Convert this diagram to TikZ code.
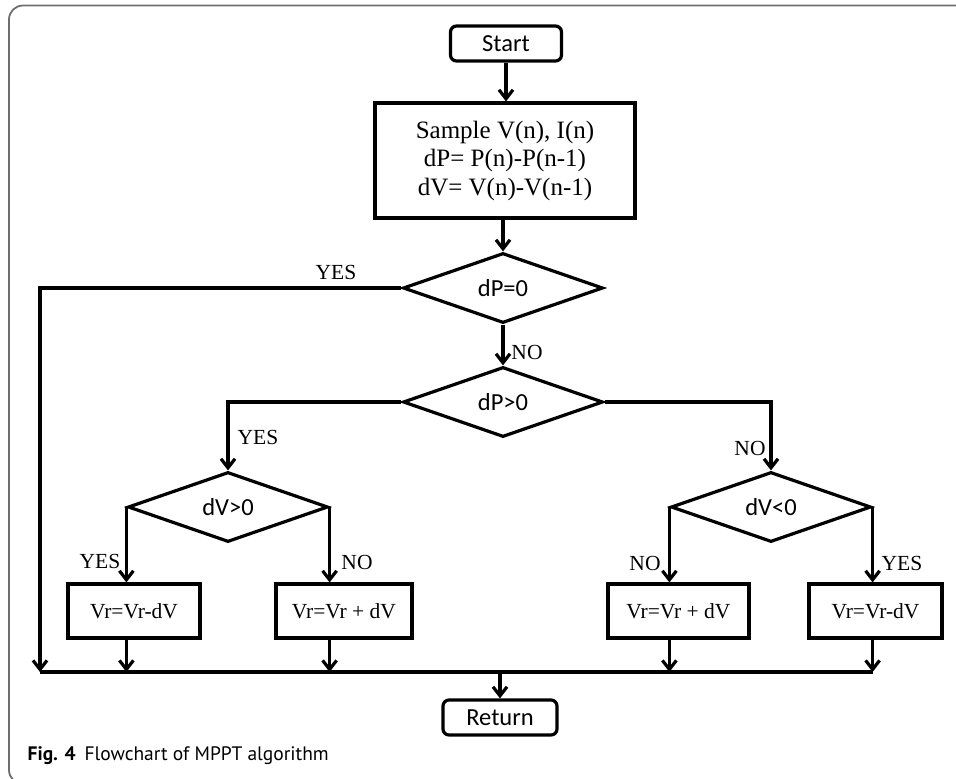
\documentclass[tikz,border=0pt]{standalone}
\usepackage{fontspec}
\setmainfont{Liberation Serif}
\newfontfamily\boxfont{Carlito}
\newfontfamily\capfont{PT Sans}
\usetikzlibrary{shapes.geometric,arrows.meta}
\definecolor{frame1}{HTML}{6E6E6E}

\begin{document}
\begin{tikzpicture}[x=1pt,y=-1pt,line width=3.2pt,
  termbox/.style={draw,rounded corners=6pt,minimum width=111pt,minimum height=35pt,inner sep=0pt,font=\boxfont\fontsize{24.5}{28}\selectfont},
  stepbox/.style={draw,minimum height=54pt,inner sep=0pt,font=\fontsize{21.5}{25}\selectfont},
  testbox/.style={draw,diamond,minimum width=200pt,minimum height=70pt,inner sep=0pt,font=\boxfont\fontsize{24.5}{28}\selectfont},
  answer/.style={inner sep=0pt,font=\fontsize{21.5}{25}\selectfont},
  flow/.style={-{Straight Barb[length=9pt,width=14pt]}}]

\useasboundingbox (0,0) rectangle (956,779);
\clip (0,0) rectangle (956,779);

\draw[frame1,line width=1.8pt,rounded corners=14pt] (990,5.5) -- (9,5.5) -- (9,784) -- (990,784);

\node[termbox] (start) at (506,43.5) {Start};
\node[draw,minimum width=260pt,minimum height=115pt,inner sep=0pt,align=center,font=\fontsize{25}{28.5}\selectfont] (sample) at (505,160.5) {Sample V(n), I(n)\\dP= P(n)-P(n-1)\\dV= V(n)-V(n-1)};

\node[testbox] (dpzero) at (503,288) {dP=0};
\node[testbox] (dpgt) at (503,402) {dP>0};
\node[testbox] (dvgt) at (228,507) {dV>0};
\node[testbox] (dvlt) at (771,507) {dV<0};

\node[stepbox,minimum width=132pt] (box1) at (134,611) {Vr=Vr-dV};
\node[stepbox,minimum width=136pt] (box2) at (344,611) {Vr=Vr + dV};
\node[stepbox,minimum width=141pt] (box3) at (678.5,611) {Vr=Vr + dV};
\node[stepbox,minimum width=133pt] (box4) at (875.5,611) {Vr=Vr-dV};

\node[termbox,minimum width=114pt] (return) at (500,717.5) {Return};

\coordinate (leftend) at (40,672);

\draw[flow] (start.south) -- (start.south |- sample.north);
\draw[flow] (sample.south -| dpzero) -- (dpzero.north);
\draw[flow] (dpzero.west) -| (leftend);
\draw[flow] (dpzero.south) -- (dpgt.north);
\draw[flow] (dpgt.west) -| (dvgt.north);
\draw[flow] (dpgt.east) -| (dvlt.north);

\draw[flow] (dvgt.west) -- (dvgt.west |- box1.north);
\draw[flow] (dvgt.east) -- (dvgt.east |- box2.north);
\draw[flow] (dvlt.west) -- (dvlt.west |- box3.north);
\draw[flow] (dvlt.east) -- (dvlt.east |- box4.north);

\draw[flow] (dvgt.west |- box1.south) -- (dvgt.west |- leftend);
\draw[flow] (dvgt.east |- box2.south) -- (dvgt.east |- leftend);
\draw[flow] (dvlt.west |- box3.south) -- (dvlt.west |- leftend);
\draw[flow] (dvlt.east |- box4.south) -- (dvlt.east |- leftend);

\draw (leftend) -- (dvlt.east |- leftend);
\draw[flow] (leftend -| return) -- (return.north);

\node[answer] (yes1) at (336,272) {YES};
\node[answer] (no1) at (527,352) {NO};
\node[answer] (yes2) at (258,437) {YES};
\node[answer] (no2) at (750,448) {NO};
\node[answer] (yes3) at (100,561) {YES};
\node[answer] (no3) at (357,562) {NO};
\node[answer] (no4) at (645,563) {NO};
\node[answer] (yes4) at (902,563) {YES};

\node[anchor=base west,inner sep=0pt,font=\capfont\fontsize{19.5}{22}\selectfont] (caption) at (26,760) {\textbf{Fig. 4}\hspace{9pt}Flowchart of MPPT algorithm};

\end{tikzpicture}
\end{document}
